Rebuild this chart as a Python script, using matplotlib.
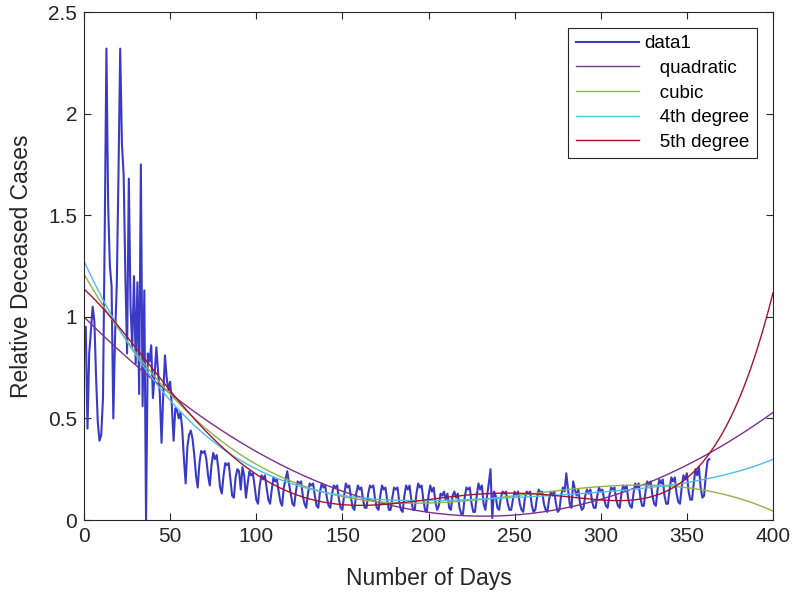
import numpy as np
import matplotlib.pyplot as plt

plt.rcParams['font.family'] = ['Liberation Sans', 'DejaVu Sans']

# daily relative deceased cases, days 1..363
early = [0.95, 0.45, 0.82, 0.93, 1.05, 0.98, 0.70, 0.48, 0.39, 0.42,
         0.60, 1.40, 2.32, 1.55, 1.25, 1.15, 0.50, 0.90, 1.15, 1.70,
         2.32, 1.85, 1.70, 1.20, 0.82, 1.68, 1.05, 0.85, 1.20, 0.77,
         1.17, 0.62, 1.75, 0.56, 1.13, 0.00, 0.82, 0.78, 0.86, 0.60,
         0.72, 0.85, 0.73, 0.62, 0.38, 0.62, 0.81, 0.70, 0.64, 0.68,
         0.56]
weekly = [
    0.39, 0.55, 0.54, 0.50, 0.53, 0.45, 0.30,
    0.18, 0.36, 0.42, 0.44, 0.40, 0.32, 0.22,
    0.16, 0.28, 0.34, 0.33, 0.34, 0.30, 0.22,
    0.17, 0.27, 0.33, 0.30, 0.32, 0.25, 0.16,
    0.13, 0.22, 0.28, 0.27, 0.28, 0.20, 0.12,
    0.11, 0.21, 0.25, 0.24, 0.15, 0.26, 0.22,
    0.11, 0.18, 0.24, 0.22, 0.23, 0.17, 0.10,
    0.08, 0.17, 0.22, 0.20, 0.22, 0.16, 0.10,
    0.08, 0.15, 0.21, 0.19, 0.20, 0.14, 0.09,
    0.07, 0.16, 0.20, 0.24, 0.18, 0.13, 0.08,
    0.07, 0.14, 0.19, 0.18, 0.19, 0.12, 0.08,
    0.06, 0.13, 0.18, 0.17, 0.18, 0.12, 0.07,
    0.06, 0.14, 0.18, 0.16, 0.17, 0.11, 0.07,
    0.06, 0.13, 0.17, 0.16, 0.17, 0.10, 0.06,
    0.05, 0.12, 0.18, 0.16, 0.17, 0.11, 0.06,
    0.05, 0.13, 0.17, 0.15, 0.16, 0.10, 0.06,
    0.06, 0.13, 0.17, 0.16, 0.17, 0.10, 0.06,
    0.05, 0.12, 0.17, 0.15, 0.16, 0.10, 0.05,
    0.05, 0.11, 0.16, 0.15, 0.16, 0.09, 0.05,
    0.04, 0.12, 0.17, 0.15, 0.17, 0.10, 0.05,
    0.05, 0.13, 0.18, 0.16, 0.17, 0.10, 0.05,
    0.04, 0.12, 0.17, 0.14, 0.16, 0.09, 0.05,
    0.07, 0.13, 0.12, 0.14, 0.10, 0.13, 0.06,
    0.05, 0.12, 0.14, 0.11, 0.13, 0.06, 0.03,
    0.03, 0.11, 0.16, 0.15, 0.16, 0.08, 0.04,
    0.04, 0.12, 0.18, 0.15, 0.17, 0.08, 0.05,
    0.12, 0.18, 0.25, 0.01, 0.14, 0.12, 0.06,
    0.05, 0.11, 0.14, 0.13, 0.14, 0.08, 0.05,
    0.05, 0.10, 0.14, 0.12, 0.14, 0.08, 0.05,
    0.04, 0.11, 0.14, 0.13, 0.14, 0.07, 0.04,
    0.05, 0.11, 0.15, 0.13, 0.14, 0.08, 0.05,
    0.04, 0.10, 0.14, 0.12, 0.14, 0.08, 0.04,
    0.05, 0.12, 0.16, 0.14, 0.23, 0.15, 0.08,
    0.06, 0.19, 0.15, 0.12, 0.15, 0.08, 0.05,
    0.06, 0.12, 0.15, 0.13, 0.15, 0.09, 0.06,
    0.06, 0.12, 0.16, 0.14, 0.15, 0.10, 0.07,
    0.06, 0.12, 0.16, 0.15, 0.16, 0.10, 0.07,
    0.06, 0.13, 0.17, 0.15, 0.17, 0.10, 0.07,
    0.06, 0.13, 0.18, 0.16, 0.18, 0.11, 0.07,
    0.07, 0.14, 0.19, 0.17, 0.19, 0.12, 0.08,
    0.07, 0.15, 0.20, 0.18, 0.20, 0.12, 0.08,
    0.08, 0.15, 0.21, 0.19, 0.21, 0.13, 0.09,
    0.08, 0.16, 0.22, 0.20, 0.23, 0.14, 0.10,
    0.10, 0.18, 0.25, 0.22, 0.26, 0.16, 0.11,
    0.12, 0.22, 0.29, 0.30,
]
cases = np.array(early + weekly)
days = np.arange(1, len(cases) + 1)

# fitted curves at these days
fit_days = [0, 50, 100, 150, 200, 250, 300, 350, 400]
quad_pts = [1.00, 0.62, 0.34, 0.14, 0.04, 0.025, 0.10, 0.27, 0.53]
cubic_pts = [1.21, 0.62, 0.27, 0.12, 0.09, 0.11, 0.16, 0.17, 0.04]
quart_pts = [1.27, 0.60, 0.24, 0.12, 0.10, 0.11, 0.14, 0.18, 0.30]
quint_pts = [1.14, 0.62, 0.25, 0.07, 0.08, 0.15, 0.10, 0.20, 1.12]

fits = [
    ('   quadratic', quad_pts, 2, '#7E2F8E'),
    ('   cubic', cubic_pts, 3, '#8DB34A'),
    ('   4th degree', quart_pts, 4, '#4DBEEE'),
    ('   5th degree', quint_pts, 5, '#A2142F'),
]

fig = plt.figure(figsize=(7.95, 5.98), dpi=100)
ax = fig.add_axes([0.1057, 0.1304, 0.8666, 0.8495])

ax.plot(days, cases, color='#3a3ac8', lw=1.5, label='data1')
xx = np.linspace(0, 400, 401)
for name, pts, deg, col in fits:
    coef = np.polyfit(fit_days, pts, deg)
    ax.plot(xx, np.polyval(coef, xx), color=col, lw=1.0, label=name)

ax.set_xlim(0, 400)
ax.set_ylim(0, 2.5)
ax.set_xticks(np.arange(0, 401, 50))
ax.set_yticks([0, 0.5, 1, 1.5, 2, 2.5])
ax.set_yticklabels(['0', '0.5', '1', '1.5', '2', '2.5'])
ax.tick_params(direction='in', top=True, right=True, length=5, width=0.8,
               labelsize=15, colors='#262626', pad=5)
for s in ax.spines.values():
    s.set_color('#262626')
    s.set_linewidth(0.8)

ax.set_xlabel('Number of Days', fontsize=16.5, color='#262626', labelpad=15)
ax.set_ylabel('Relative Deceased Cases', fontsize=16.5, color='#262626', labelpad=11)

leg = ax.legend(loc='upper right', bbox_to_anchor=(0.977, 0.969), borderaxespad=0,
                fontsize=13.5, handlelength=3.4, handletextpad=0.27,
                labelspacing=0.4, fancybox=False, framealpha=1)
leg.get_frame().set_edgecolor('#262626')
leg.get_frame().set_linewidth(0.8)

plt.savefig('out.png', dpi=100)
